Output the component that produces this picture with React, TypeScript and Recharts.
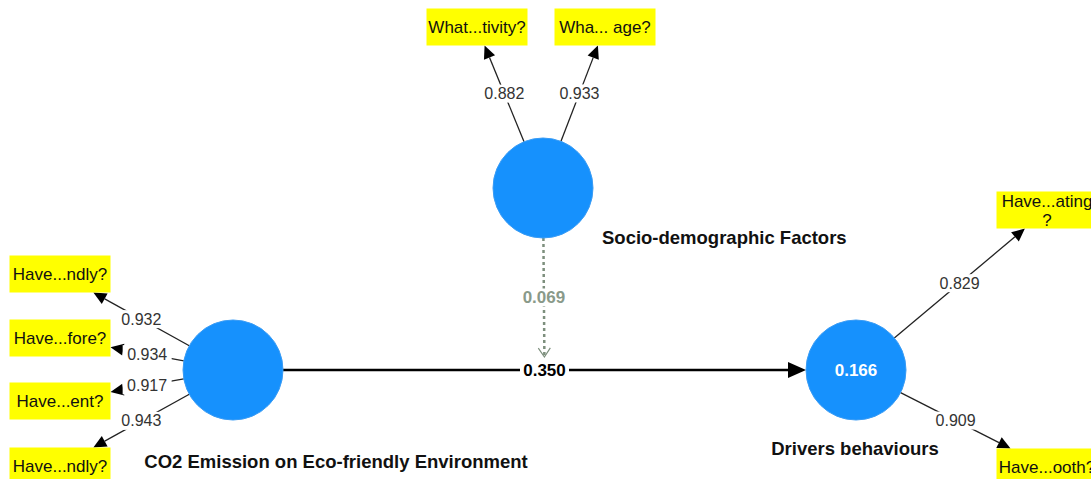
import { ScatterChart, Scatter, XAxis, YAxis, ReferenceLine } from "recharts"

// constructs (latent variables)
const constructs = ["CO2 Emission on Eco-friendly Environment", "Socio-demographic Factors", "Drivers behaviours"]
const rSquared: (number | null)[] = [null, null, 0.166]

// indicators with their outer loadings
const indicatorLabels = ["Have...ndly?", "Have...fore?", "Have...ent?", "Have...ndly?", "What...tivity?", "Wha... age?", "Have...ating\n?", "Have...ooth?"]
const indicatorOf = [0, 0, 0, 0, 1, 1, 2, 2]
const loadings = [0.932, 0.934, 0.917, 0.943, 0.882, 0.933, 0.829, 0.909]

// structural paths
const pathCoef = 0.35
const moderatingCoef = 0.069

// diagram layout (diagram units, same size as the picture)
const constructXY = [[233, 370], [543, 188], [856, 370]]
const constructLabelAt = [[336, 461, "middle"], [602, 237, "start"], [855, 448, "middle"]]
const indicatorXY = [[60, 274], [60, 338], [60, 401], [60, 466], [477, 27], [605, 27], [1047, 210], [1047, 467]]

const W = 1091
const H = 479
const R = 50
const BOX_W = 101
const BOX_H = 37
const FONT = '"Liberation Sans", Arial, sans-serif'

const constructNodes = constructs.map((name, i) => ({
  x: constructXY[i][0],
  y: constructXY[i][1],
  name,
  r2: rSquared[i],
  lx: constructLabelAt[i][0] as number,
  ly: constructLabelAt[i][1] as number,
  anchor: constructLabelAt[i][2] as string,
}))

const indicatorNodes = indicatorLabels.map((label, i) => ({
  x: indicatorXY[i][0],
  y: indicatorXY[i][1],
  label,
}))

type EdgeOpts = {
  startTrim: number
  box?: boolean
  endTrim?: number
  label: string
  color: string
  width: number
  head: number
  headW: number
  dashed?: boolean
  bold?: boolean
  labelColor: string
}

function makeEdge(o: EdgeOpts) {
  return (props: any) => {
    const x1 = Number(props.x1), y1 = Number(props.y1), x2 = Number(props.x2), y2 = Number(props.y2)
    const dx = x2 - x1
    const dy = y2 - y1
    const len = Math.hypot(dx, dy)
    const ux = dx / len
    const uy = dy / len
    const sx = x1 + ux * o.startTrim
    const sy = y1 + uy * o.startTrim
    let endTrim = o.endTrim ?? 0
    if (o.box) {
      const tx = Math.abs(dx) > 0 ? BOX_W / 2 / Math.abs(dx) : Infinity
      const ty = Math.abs(dy) > 0 ? BOX_H / 2 / Math.abs(dy) : Infinity
      endTrim = Math.min(tx, ty) * len
    }
    const tx = x2 - ux * endTrim
    const ty = y2 - uy * endTrim
    const bx = tx - ux * o.head
    const by = ty - uy * o.head
    const px = -uy * o.headW
    const py = ux * o.headW
    const mx = (sx + tx) / 2
    const my = (sy + ty) / 2
    const tw = o.label.length * 9 + 4
    return (
      <g>
        <line
          x1={sx}
          y1={sy}
          x2={o.dashed ? tx - ux * 2 : bx}
          y2={o.dashed ? ty - uy * 2 : by}
          stroke={o.color}
          strokeWidth={o.width}
          strokeDasharray={o.dashed ? "3 3" : undefined}
        />
        {o.dashed ? (
          <polyline
            points={`${bx + px},${by + py} ${tx},${ty} ${bx - px},${by - py}`}
            fill="none"
            stroke={o.color}
            strokeWidth={1.2}
          />
        ) : (
          <polygon points={`${tx},${ty} ${bx + px},${by + py} ${bx - px},${by - py}`} fill="#000" />
        )}
        <rect x={mx - tw / 2} y={my - 9} width={tw} height={18} fill="#fff" />
        <text
          x={mx}
          y={my}
          textAnchor="middle"
          dominantBaseline="central"
          fontFamily={FONT}
          fontSize={o.bold ? 17 : 16}
          fontWeight={o.bold ? "bold" : "normal"}
          fill={o.labelColor}
        >
          {o.label}
        </text>
      </g>
    )
  }
}

function ConstructShape(props: any) {
  const { cx, cy, payload } = props
  return (
    <g>
      <circle cx={cx} cy={cy} r={R} fill="#1691fd" stroke="#3a9cf5" strokeWidth={1} />
      {payload.r2 != null && (
        <text x={cx} y={cy} textAnchor="middle" dominantBaseline="central" fill="#fff" fontFamily={FONT} fontSize={17} fontWeight="bold">
          {payload.r2.toFixed(3)}
        </text>
      )}
      <text
        x={cx + (payload.lx - payload.x)}
        y={cy + (payload.ly - payload.y)}
        textAnchor={payload.anchor}
        dominantBaseline="central"
        fill="#111"
        fontFamily={FONT}
        fontSize={18.5}
        fontWeight="bold"
      >
        {payload.name}
      </text>
    </g>
  )
}

function IndicatorShape(props: any) {
  const { cx, cy, payload } = props
  const lines = String(payload.label).split("\n")
  const lh = 19
  const top = cy - ((lines.length - 1) * lh) / 2
  return (
    <g>
      <rect x={cx - BOX_W / 2} y={cy - BOX_H / 2} width={BOX_W} height={BOX_H} fill="#ffff00" />
      <text textAnchor="middle" fontFamily={FONT} fontSize={17} fill="#111">
        {lines.map((l, i) => (
          <tspan key={i} x={cx} y={top + i * lh + 6}>
            {l}
          </tspan>
        ))}
      </text>
    </g>
  )
}

export default function App() {
  const [co2, socio, drivers] = constructNodes
  const modTarget = { x: (co2.x + drivers.x) / 2, y: (co2.y + drivers.y) / 2 }
  return (
    <div style={{ position: "absolute", left: 0, top: 0, background: "#fff" }}>
      <ScatterChart width={W} height={H} margin={{ top: 0, right: 0, bottom: 0, left: 0 }}>
        <XAxis type="number" dataKey="x" domain={[0, W]} hide />
        <YAxis type="number" dataKey="y" domain={[0, H]} reversed hide />
        {indicatorNodes.map((ind, i) => {
          const c = constructNodes[indicatorOf[i]]
          return (
            <ReferenceLine
              key={"l" + i}
              ifOverflow="visible"
              segment={[{ x: c.x, y: c.y }, { x: ind.x, y: ind.y }]}
              shape={makeEdge({
                startTrim: R,
                box: true,
                label: loadings[i].toFixed(3),
                color: "#222",
                width: 1.3,
                head: 13,
                headW: 6,
                labelColor: "#333",
              })}
            />
          )
        })}
        <ReferenceLine
          ifOverflow="visible"
          segment={[{ x: co2.x, y: co2.y }, { x: drivers.x, y: drivers.y }]}
          shape={makeEdge({
            startTrim: R,
            endTrim: R,
            label: pathCoef.toFixed(3),
            color: "#000",
            width: 2.5,
            head: 18,
            headW: 8,
            bold: true,
            labelColor: "#000",
          })}
        />
        <ReferenceLine
          ifOverflow="visible"
          segment={[{ x: socio.x, y: socio.y }, modTarget]}
          shape={makeEdge({
            startTrim: R,
            endTrim: 13,
            label: moderatingCoef.toFixed(3),
            color: "#7d8f7d",
            width: 2.5,
            head: 9,
            headW: 6,
            dashed: true,
            bold: true,
            labelColor: "#8a9a8a",
          })}
        />
        <Scatter data={indicatorNodes} shape={(p: any) => <IndicatorShape {...p} />} isAnimationActive={false} />
        <Scatter data={constructNodes} shape={(p: any) => <ConstructShape {...p} />} isAnimationActive={false} />
      </ScatterChart>
    </div>
  )
}
